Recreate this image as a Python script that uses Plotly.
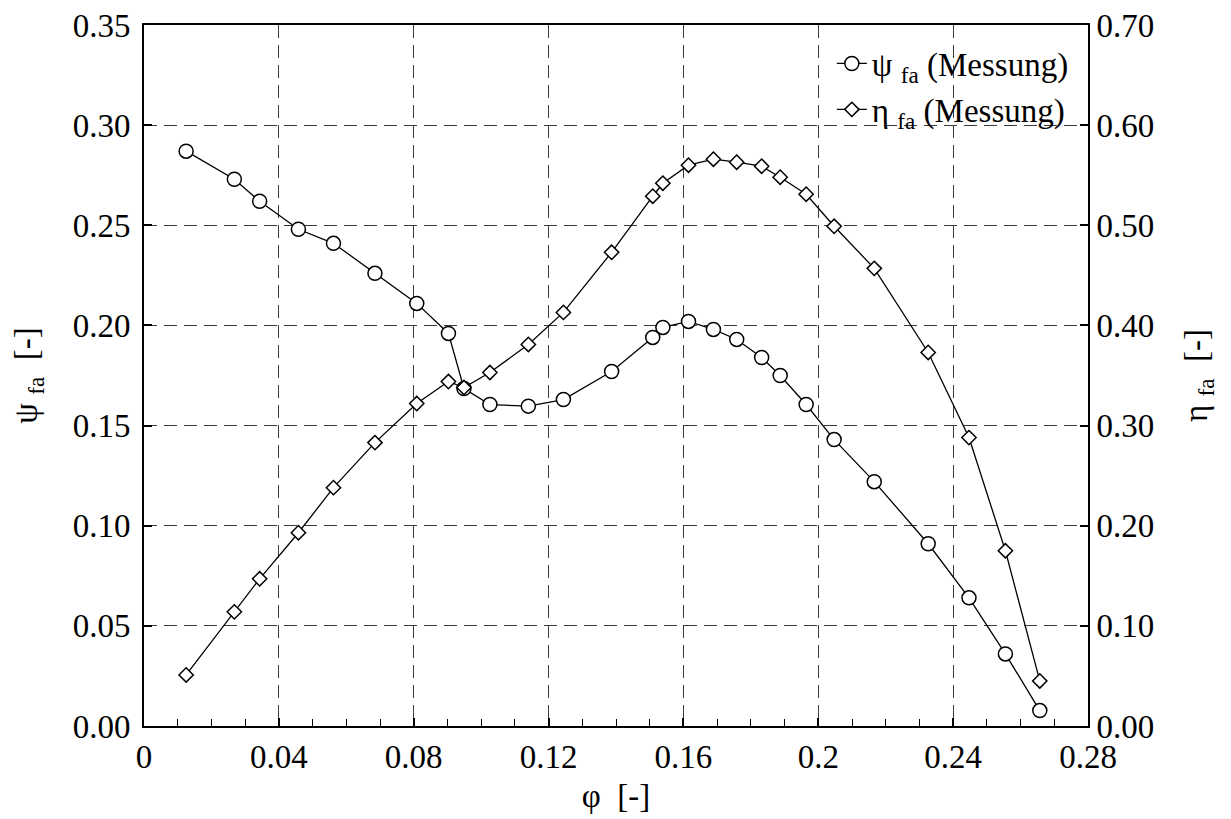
import plotly.graph_objects as go

# Flow coefficient phi [-]
phi = [0.0125, 0.0268, 0.0343, 0.0458, 0.0562, 0.0685, 0.0809, 0.0903, 0.0949,
       0.1026, 0.1140, 0.1244, 0.1387, 0.1509, 0.1539, 0.1615, 0.1689, 0.1758,
       0.1832, 0.1887, 0.1964, 0.2047, 0.2166, 0.2326, 0.2447, 0.2555, 0.2657]

# Pressure coefficient psi_fa (Messung) - left axis
psi_fa = [0.287, 0.273, 0.262, 0.248, 0.241, 0.226, 0.211, 0.196, 0.1685,
          0.1605, 0.1597, 0.163, 0.177, 0.194, 0.199, 0.202, 0.198, 0.193,
          0.184, 0.175, 0.1605, 0.143, 0.122, 0.091, 0.064, 0.036, 0.0077]

# Efficiency eta_fa (Messung) - right axis
eta_fa = [0.051, 0.114, 0.147, 0.193, 0.238, 0.283, 0.322, 0.344, 0.338,
          0.353, 0.381, 0.413, 0.473, 0.529, 0.542, 0.560, 0.566, 0.563,
          0.559, 0.548, 0.531, 0.499, 0.457, 0.373, 0.288, 0.175, 0.045]

x_ticks = [0, 0.04, 0.08, 0.12, 0.16, 0.20, 0.24, 0.28]
x_tick_labels = ["0", "0.04", "0.08", "0.12", "0.16", "0.2", "0.24", "0.28"]
y_ticks = [0.00, 0.05, 0.10, 0.15, 0.20, 0.25, 0.30, 0.35]
y_tick_labels = ["0.00", "0.05", "0.10", "0.15", "0.20", "0.25", "0.30", "0.35"]
y2_ticks = [0.00, 0.10, 0.20, 0.30, 0.40, 0.50, 0.60, 0.70]
y2_tick_labels = ["0.00", "0.10", "0.20", "0.30", "0.40", "0.50", "0.60", "0.70"]

FONT = "Liberation Serif"
FS = 33

fig = go.Figure()
fig.add_trace(go.Scatter(
    x=phi, y=psi_fa, mode="lines+markers", name="ψ <sub>fa</sub> (Messung)",
    line=dict(color="black", width=1.3),
    marker=dict(symbol="circle", size=14, color="white",
                line=dict(color="black", width=1.5)),
    yaxis="y"))
fig.add_trace(go.Scatter(
    x=phi, y=eta_fa, mode="lines+markers", name="η <sub>fa</sub> (Messung)",
    line=dict(color="black", width=1.3),
    marker=dict(symbol="diamond", size=11, color="white",
                line=dict(color="black", width=1.5)),
    yaxis="y2"))

grid = dict(showgrid=True, gridcolor="#3a3a3a", gridwidth=1.3, griddash="13px,7px")

fig.update_layout(
    width=1223, height=811,
    paper_bgcolor="white", plot_bgcolor="white",
    font=dict(family=FONT, size=FS, color="black"),
    margin=dict(l=136, r=143, t=17, b=93, autoexpand=False),
    showlegend=True,
    legend=dict(x=0.985, y=0.985, xanchor="right", yanchor="top",
                bgcolor="rgba(255,255,255,0)", borderwidth=0,
                font=dict(family=FONT, size=FS), tracegroupgap=0),
    xaxis=dict(range=[0, 0.28], tickvals=x_ticks, ticktext=x_tick_labels,
               ticks="inside", ticklen=8, tickwidth=1.5, tickcolor="black",
               showline=True, linecolor="black", linewidth=2, mirror=True,
               zeroline=False, ticklabeloverflow="allow",
               minor=dict(dtick=0.01, ticks="inside", ticklen=7, tickwidth=1.2,
                          tickcolor="black", showgrid=False),
               title=dict(text="φ&nbsp; [-]", standoff=10,
                          font=dict(family=FONT, size=FS)),
               **grid),
    yaxis=dict(range=[0, 0.35], tickvals=y_ticks, ticktext=y_tick_labels,
               ticks="inside", ticklen=8, tickwidth=1.5, tickcolor="black",
               showline=True, linecolor="black", linewidth=2, mirror=True,
               zeroline=False, ticklabeloverflow="allow", ticklabelstandoff=5,
               title=dict(text="ψ <sub>fa</sub>&nbsp; [-]", standoff=25,
                          font=dict(family=FONT, size=FS)),
               **grid),
    yaxis2=dict(range=[0, 0.70], tickvals=y2_ticks, ticktext=y2_tick_labels,
                overlaying="y", side="right",
                ticks="inside", ticklen=8, tickwidth=1.5, tickcolor="black",
                showline=True, linecolor="black", linewidth=2,
                showgrid=False, zeroline=False, ticklabeloverflow="allow",
                title=dict(text="η <sub>fa</sub>&nbsp; [-]", standoff=31,
                           font=dict(family=FONT, size=FS))),
)

fig.write_html("out.html")
